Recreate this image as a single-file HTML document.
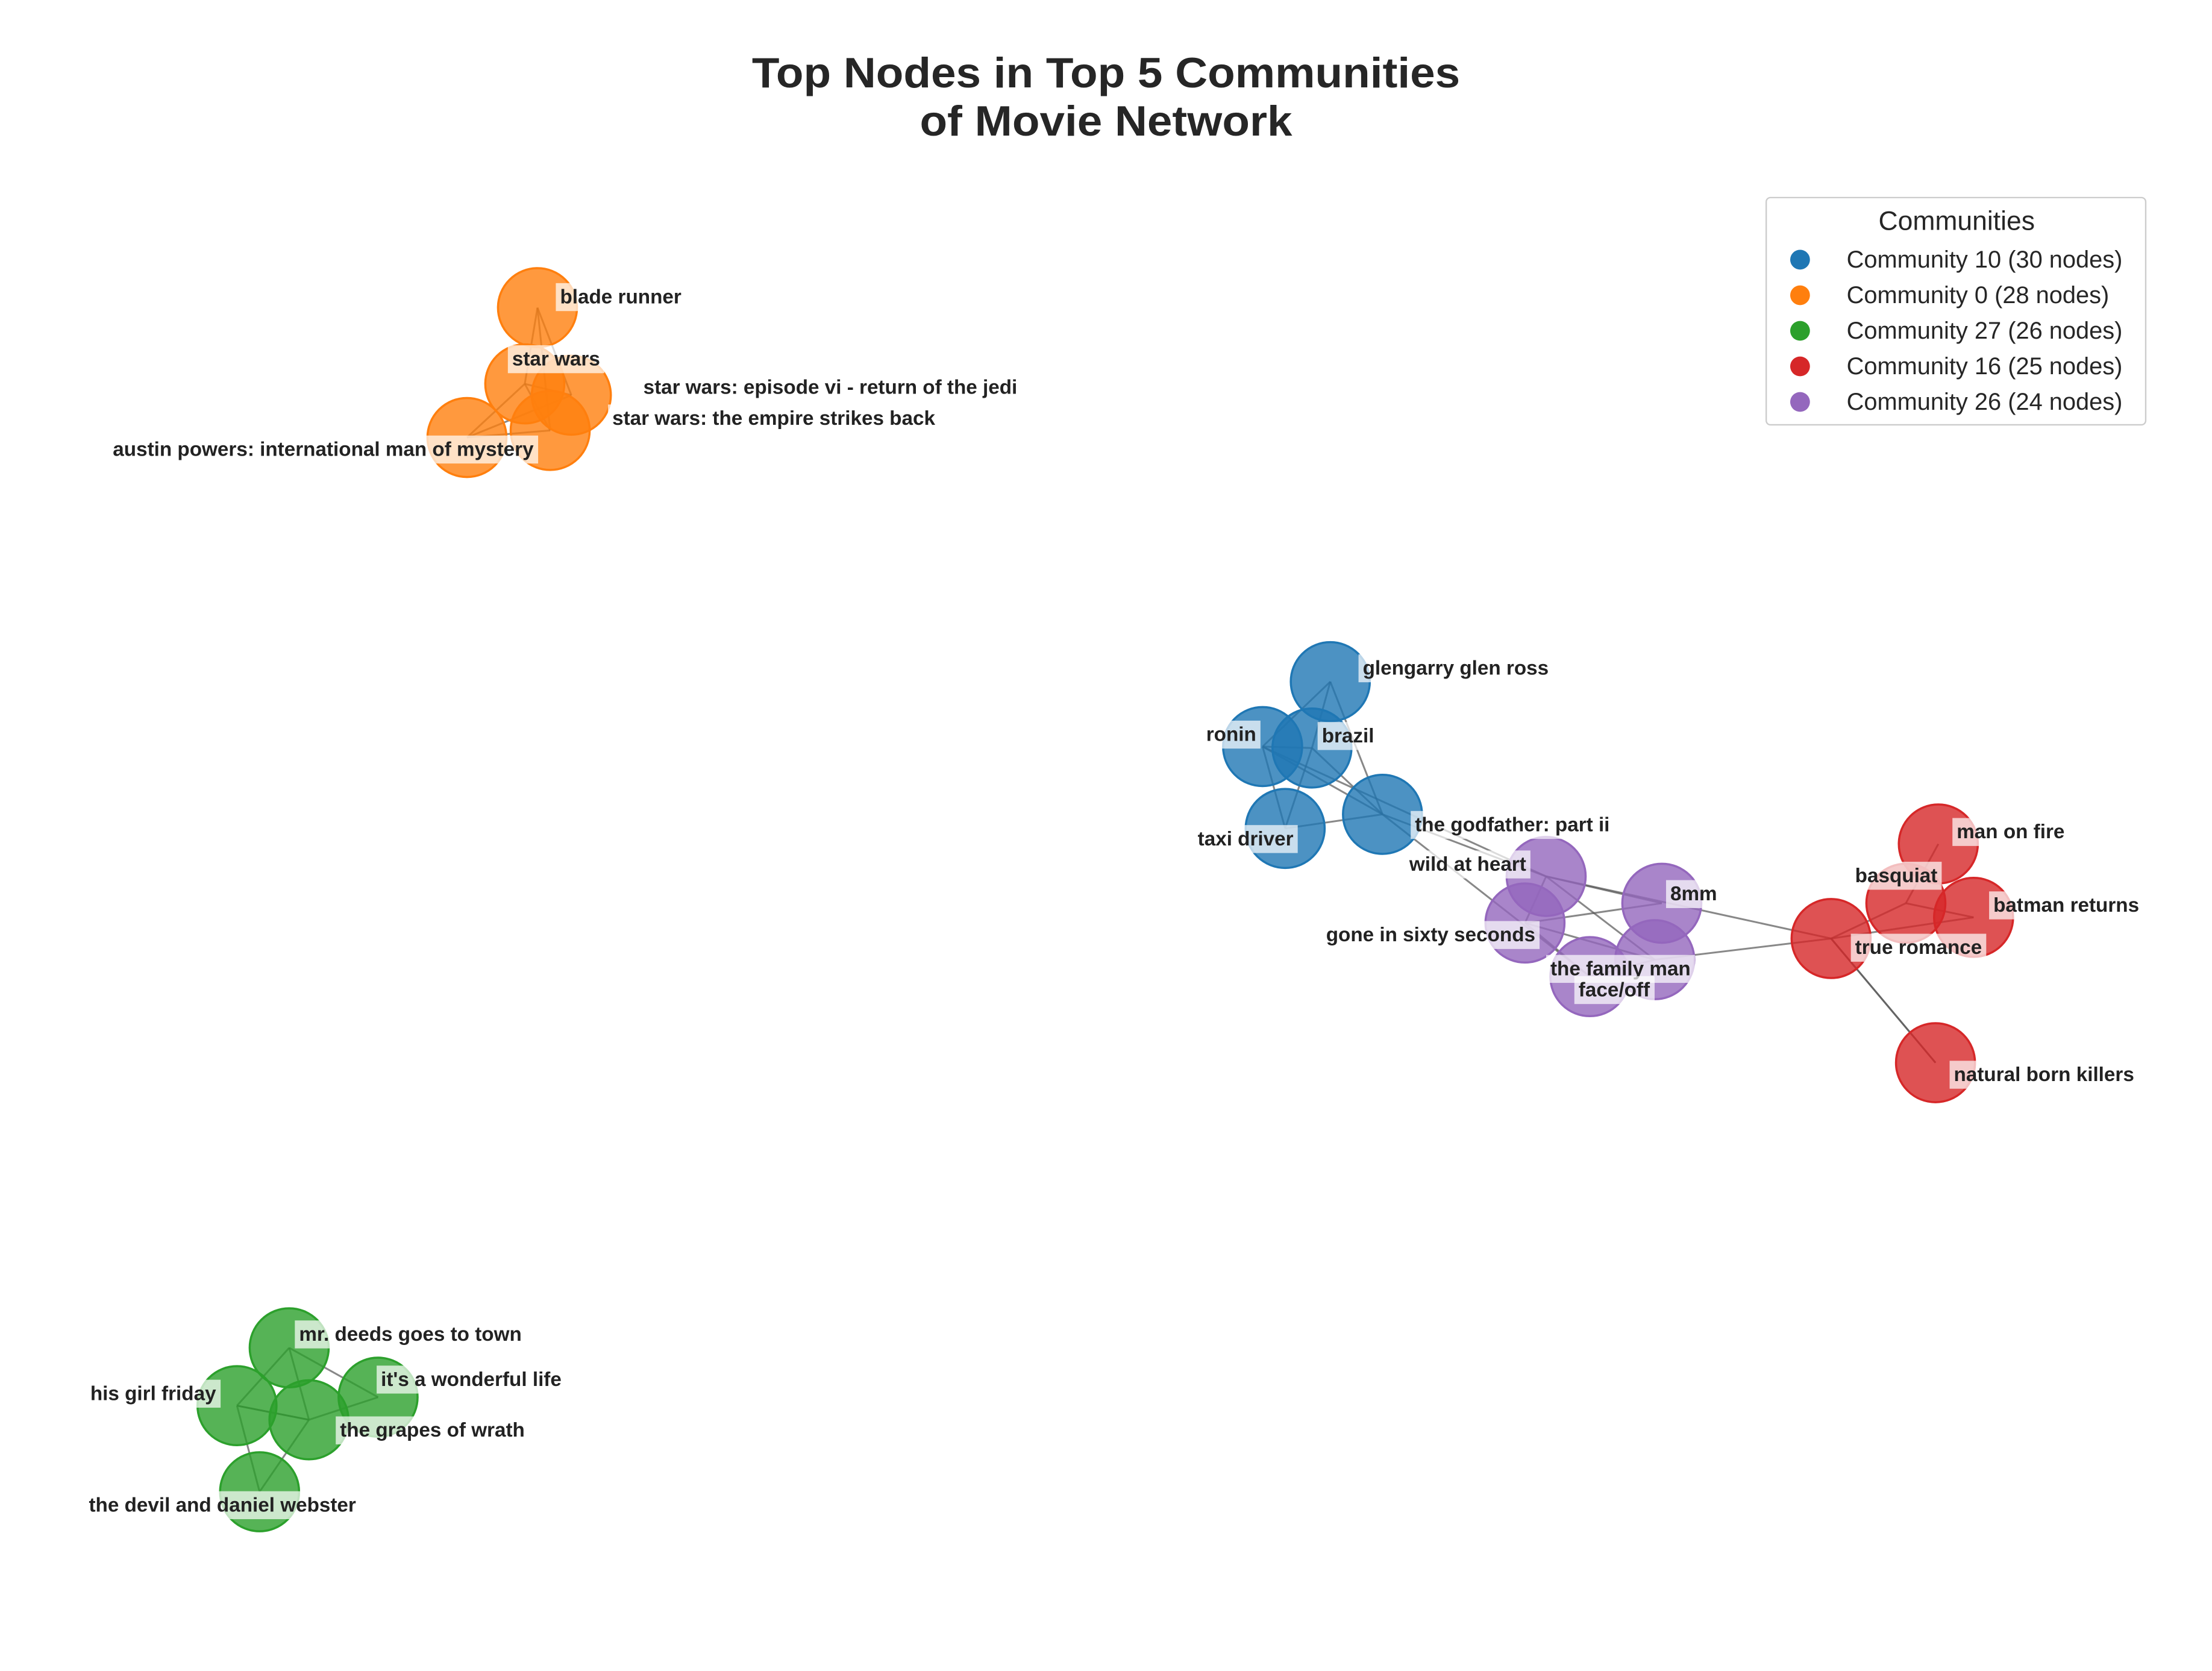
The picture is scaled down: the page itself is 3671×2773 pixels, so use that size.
<!DOCTYPE html>
<html><head><meta charset="utf-8"><style>
html,body{margin:0;padding:0;background:#fff;}
svg{display:block;font-family:"Liberation Sans",Arial,sans-serif;}
</style></head><body>
<svg id="chart" width="3671" height="2773" viewBox="0 0 1568 1184" preserveAspectRatio="none" xmlns="http://www.w3.org/2000/svg">
<rect width="1568" height="1184" fill="#fff"/>
<text x="784" y="62" text-anchor="middle" font-size="30" font-weight="bold" fill="#262626" textLength="502" lengthAdjust="spacingAndGlyphs">Top Nodes in Top 5 Communities</text>
<text x="784" y="96" text-anchor="middle" font-size="30" font-weight="bold" fill="#262626" textLength="264" lengthAdjust="spacingAndGlyphs">of Movie Network</text>
<g id="edges"></g>
<g id="nodes"></g>
<g id="labels"></g>
<g id="legend"></g>
</svg>
<script>
const communities = ["Community 10 (30 nodes)","Community 0 (28 nodes)","Community 27 (26 nodes)","Community 16 (25 nodes)","Community 26 (24 nodes)"];
const commColors = ["#1f77b4","#ff7f0e","#2ca02c","#d62728","#9467bd"];
const nodeNames = ["blade runner","star wars","star wars: episode vi - return of the jedi","star wars: the empire strikes back","austin powers: international man of mystery",
"glengarry glen ross","ronin","brazil","taxi driver","the godfather: part ii",
"wild at heart","8mm","gone in sixty seconds","the family man","face/off",
"man on fire","basquiat","batman returns","true romance","natural born killers",
"mr. deeds goes to town","his girl friday","the grapes of wrath","it's a wonderful life","the devil and daniel webster"];
const nodeComm = [1,1,1,1,1, 0,0,0,0,0, 4,4,4,4,4, 3,3,3,3,3, 2,2,2,2,2];
const nodeX = [381,372,405,390,331, 943,895,930,911,980, 1096,1178,1081,1173,1127, 1374,1351,1399,1298,1372, 205,168,219,268,184];
const nodeY = [218,272,280,305,310, 483,529,530,587,577, 621,640,654,680,692, 598,640,650,665,753, 955,996,1006,990,1057];
const labelX = [397,363,456,434,80, 966,855,937,849,1003, 999,1184,940,1099,1119, 1387,1315,1413,1315,1385, 212,64,241,270,63];
const labelY = [210,254,274,296,318, 473,520,521,594,584, 612,633,662,686,701, 589,620,641,671,761, 945,987,1013,977,1066];
const edgeFrom = [0,0,0,1,1,1,2,3, 5,5,5,6,6,6,7,7,8, 9,9,6, 10,10,10,11,12,13,12, 15,16,16,17,18, 18,18,19, 20,20,20,21,21,22,22,22];
const edgeTo   = [1,2,3,2,3,4,4,4, 6,7,9,7,8,9,8,9,9, 10,14,10, 11,12,13,12,13,14,14, 16,17,18,18,19, 10,13,18, 21,22,23,22,24,23,24,21];
const NS="http://www.w3.org/2000/svg";
const R=28;
const eg=document.getElementById('edges'), ng=document.getElementById('nodes'), lg=document.getElementById('labels'), leg=document.getElementById('legend');
for(let i=0;i<edgeFrom.length;i++){
  const a=edgeFrom[i], b=edgeTo[i];
  if(a===b) continue;
  const l=document.createElementNS(NS,'line');
  
  
  l.setAttribute('x1',nodeX[a]);l.setAttribute('y1',nodeY[a]);l.setAttribute('x2',nodeX[b]);l.setAttribute('y2',nodeY[b]);
  l.setAttribute('stroke','#555');l.setAttribute('stroke-opacity','0.7');l.setAttribute('stroke-width','1.3');
  eg.appendChild(l);
}
for(let i=0;i<nodeNames.length;i++){
  const c=document.createElementNS(NS,'circle');
  
  
  c.setAttribute('cx',nodeX[i]);c.setAttribute('cy',nodeY[i]);c.setAttribute('r',R);
  c.setAttribute('fill',commColors[nodeComm[i]]);c.setAttribute('fill-opacity','0.8');
  c.setAttribute('stroke',commColors[nodeComm[i]]);c.setAttribute('stroke-width','1.5');
  ng.appendChild(c);
}
for(let i=0;i<nodeNames.length;i++){
  const t=document.createElementNS(NS,'text');
  
  
  t.setAttribute('x',labelX[i]);t.setAttribute('y',labelY[i]+5);
  t.setAttribute('font-size','14.2');t.setAttribute('font-weight','bold');t.setAttribute('fill','#222');
  t.textContent=nodeNames[i];
  lg.appendChild(t);
  const bb=t.getBBox();
  const r=document.createElementNS(NS,'rect');
  
  
  r.setAttribute('x',bb.x-3);r.setAttribute('y',bb.y-2);r.setAttribute('width',bb.width+6);r.setAttribute('height',bb.height+4);
  r.setAttribute('fill','#fff');r.setAttribute('fill-opacity','0.7');
  lg.insertBefore(r,t);
}
const box=document.createElementNS(NS,'rect');


box.setAttribute('x',1252);box.setAttribute('y',140);box.setAttribute('width',269);box.setAttribute('height',161);box.setAttribute('rx',3);
box.setAttribute('fill','#fff');box.setAttribute('stroke','#ccc');
leg.appendChild(box);
const lt=document.createElementNS(NS,'text');


lt.setAttribute('x',1387);lt.setAttribute('y',163);lt.setAttribute('text-anchor','middle');lt.setAttribute('font-size','19');lt.setAttribute('fill','#262626');
lt.textContent='Communities';
leg.appendChild(lt);
for(let i=0;i<communities.length;i++){
  const y=184+i*25.2;
  const c=document.createElementNS(NS,'circle');
  
  
  c.setAttribute('cx',1276);c.setAttribute('cy',y);c.setAttribute('r',7);c.setAttribute('fill',commColors[i]);
  leg.appendChild(c);
  const t=document.createElementNS(NS,'text');
  
  
  t.setAttribute('x',1309);t.setAttribute('y',y+5.5);t.setAttribute('font-size','17');t.setAttribute('fill','#262626');
  t.textContent=communities[i];
  leg.appendChild(t);
}
</script>
</body></html>
